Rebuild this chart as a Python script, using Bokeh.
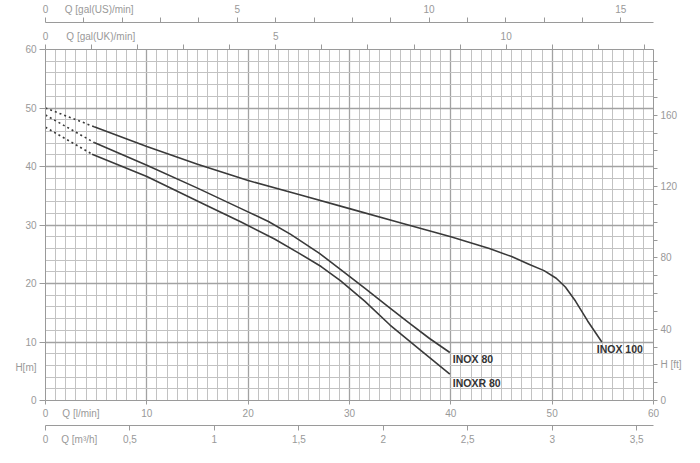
from bokeh.plotting import figure
from bokeh.models import Range1d, LinearAxis, SingleIntervalTicker, FixedTicker, Label
from bokeh.embed import file_html
from bokeh.resources import INLINE

# ---- data (Q in l/min, H in m) ----
inox100_dot_q = [0, 4.8]
inox100_dot_h = [50.0, 46.8]
inox100_q = [4.8, 10, 15, 20, 25, 30, 35, 40, 43.8, 46, 47.7, 49.2, 50.4, 51.3, 52.3, 53.5, 54.9]
inox100_h = [46.8, 43.4, 40.4, 37.6, 35.2, 32.8, 30.4, 28.0, 26.0, 24.6, 23.3, 22.2, 20.9, 19.4, 17.0, 13.6, 10.0]

inox80_dot_q = [0, 4.8]
inox80_dot_h = [48.8, 44.1]
inox80_q = [4.8, 10, 15, 19.3, 22, 24.2, 27, 29.1, 31.5, 34, 36, 37.9, 39.9]
inox80_h = [44.1, 40.2, 36.3, 32.8, 30.6, 28.4, 25.2, 22.4, 19.2, 15.8, 13.1, 10.6, 8.2]

inoxr80_dot_q = [0, 4.6]
inoxr80_dot_h = [46.7, 42.1]
inoxr80_q = [4.6, 10, 15.7, 19.3, 22.6, 25, 27.2, 29.1, 31.5, 34, 37, 39.9]
inoxr80_h = [42.1, 38.3, 33.5, 30.5, 27.6, 25.2, 22.9, 20.5, 17.0, 12.9, 8.6, 4.5]

curve_names = ["INOX 100", "INOX 80", "INOXR 80"]
label_q = [54.4, 40.2, 40.2]
label_h = [8.8, 7.1, 3.0]

# axis ticks and tick labels
lmin_ticks = [0, 10, 20, 30, 40, 50, 60]
lmin_labels = ["0", "10", "20", "30", "40", "50", "60"]
m_ticks = [0, 10, 20, 30, 40, 50, 60]
m_labels = ["0", "10", "20", "30", "40", "50", "60"]
m3h_ticks = [0, 0.5, 1, 1.5, 2, 2.5, 3, 3.5]
m3h_labels = ["0", "0,5", "1", "1,5", "2", "2,5", "3", "3,5"]
usgal_ticks = [0, 5, 10, 15]
usgal_labels = ["0", "5", "10", "15"]
ukgal_ticks = [0, 5, 10]
ukgal_labels = ["0", "5", "10"]
ft_ticks = [0, 20, 40, 80, 120, 160]
ft_labels = ["0", "H [ft]", "40", "80", "120", "160"]

# axis titles, placed on the tick-label row of their axis (position in that axis' unit)
title_usgal = ("Q [gal(US)/min]", 1.4)
title_ukgal = ("Q [gal(UK)/min]", 1.2)
title_lmin = ("Q [l/min]", 3.5)
title_m3h = ("Q [m³/h]", 0.2)
title_m = ("H[m]", 5.6)

# unit conversions
L_PER_USGAL = 3.78541
L_PER_UKGAL = 4.54609
LMIN_PER_M3H = 1000 / 60
FT_PER_M = 3.28084

QMAX, HMAX = 60, 60

FONT = "Liberation Sans"
TXT = "#999999"
AX = "#9a9a9a"
CURVE = "#3a3a3a"

p = figure(width=684, height=447, output_backend="svg", toolbar_location=None,
           x_range=Range1d(0, QMAX), y_range=Range1d(0, HMAX),
           min_border_left=45, min_border_right=30, min_border_top=49, min_border_bottom=46)
p.outline_line_color = None
p.background_fill_color = "white"
p.border_fill_color = "white"

p.extra_x_ranges = {
    "usgal": Range1d(0, QMAX / L_PER_USGAL),
    "ukgal": Range1d(0, QMAX / L_PER_UKGAL),
    "m3h": Range1d(0, QMAX / LMIN_PER_M3H),
}
p.extra_y_ranges = {"ft": Range1d(0, HMAX * FT_PER_M)}


def style(ax, tick_out=4, standoff=3):
    ax.axis_line_color = AX
    ax.axis_line_width = 1
    ax.major_tick_line_color = None
    ax.minor_tick_line_color = AX
    ax.major_tick_in = 0
    ax.major_tick_out = tick_out
    ax.minor_tick_in = 0
    ax.minor_tick_out = tick_out
    ax.major_label_text_color = TXT
    ax.major_label_text_font = FONT
    ax.major_label_text_font_size = "10px"
    ax.major_label_standoff = standoff


def pad(ax, size, standoff):
    ax.axis_label = " "
    ax.axis_label_text_font_size = size
    ax.axis_label_standoff = standoff


def make_ticker(ticks, labels, title, minor):
    t = FixedTicker(ticks=list(ticks) + [title[1]], minor_ticks=list(minor))
    overrides = {k: v for k, v in zip(ticks, labels)}
    overrides[title[1]] = title[0]
    return t, overrides


# grid
p.xgrid.ticker = SingleIntervalTicker(interval=10, num_minor_ticks=10)
p.ygrid.ticker = SingleIntervalTicker(interval=10, num_minor_ticks=5)
p.xgrid.grid_line_color = "#a2a2a2"
p.ygrid.grid_line_color = "#a2a2a2"
p.xgrid.minor_grid_line_color = "#c2c2c2"
p.ygrid.minor_grid_line_color = "#c2c2c2"
p.xgrid.grid_line_width = 1.3
p.ygrid.grid_line_width = 1.3

# bottom l/min axis (default)
t, o = make_ticker(lmin_ticks, lmin_labels, title_lmin, lmin_ticks)
p.xaxis.ticker = t
p.xaxis.major_label_overrides = o
style(p.xaxis[0], tick_out=4)
pad(p.xaxis[0], "4px", -4)

# left H[m] axis
t, o = make_ticker(m_ticks, m_labels, title_m, m_ticks)
p.yaxis.ticker = t
p.yaxis.major_label_overrides = o
style(p.yaxis[0], tick_out=6)

# bottom m3/h axis
t, o = make_ticker(m3h_ticks, m3h_labels, title_m3h, m3h_ticks)
ax_m3 = LinearAxis(x_range_name="m3h", ticker=t, major_label_overrides=o)
style(ax_m3, tick_out=5)
p.add_layout(ax_m3, "below")

# top gal axes
t, o = make_ticker(ukgal_ticks, ukgal_labels, title_ukgal, range(0, 14))
ax_uk = LinearAxis(x_range_name="ukgal", ticker=t, major_label_overrides=o)
style(ax_uk, tick_out=5)
pad(ax_uk, "4px", -3)
p.add_layout(ax_uk, "above")

t, o = make_ticker(usgal_ticks, usgal_labels, title_usgal, range(0, 16))
ax_us = LinearAxis(x_range_name="usgal", ticker=t, major_label_overrides=o)
style(ax_us, tick_out=5)
p.add_layout(ax_us, "above")

# right ft axis
ax_ft = LinearAxis(y_range_name="ft",
                   ticker=FixedTicker(ticks=ft_ticks, minor_ticks=list(range(0, 200, 10))))
ax_ft.major_label_overrides = {k: v for k, v in zip(ft_ticks, ft_labels)}
style(ax_ft, tick_out=4)
p.add_layout(ax_ft, "right")

# curves
for dq, dh, q, h in [(inox100_dot_q, inox100_dot_h, inox100_q, inox100_h),
                     (inox80_dot_q, inox80_dot_h, inox80_q, inox80_h),
                     (inoxr80_dot_q, inoxr80_dot_h, inoxr80_q, inoxr80_h)]:
    p.line(dq, dh, line_color=CURVE, line_width=1.6, line_dash="2 3")
    p.line(q, h, line_color=CURVE, line_width=1.6, line_join="round")

for name, lq, lh in zip(curve_names, label_q, label_h):
    p.add_layout(Label(x=lq, y=lh, text=name, text_font=FONT, text_font_size="10.5px",
                       text_font_style="bold", text_color="#333333",
                       text_align="left", text_baseline="middle"))

open("out.html", "w").write(file_html(p, INLINE))
